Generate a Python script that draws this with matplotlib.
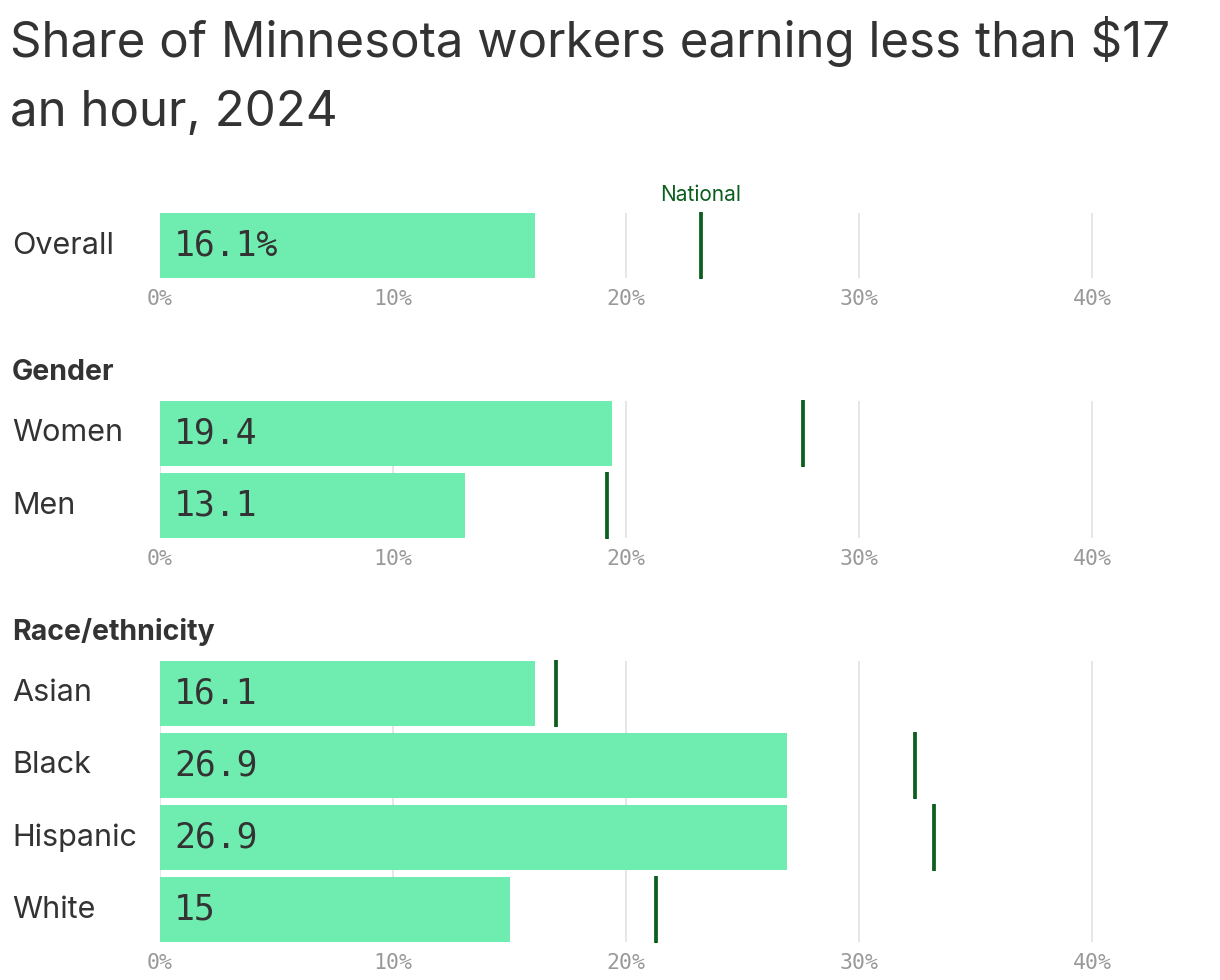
import matplotlib.pyplot as plt
from matplotlib import transforms

# data
overall_labels = ["Overall"]
overall_mn = [16.1]
overall_nat = [23.2]

gender_labels = ["Women", "Men"]
gender_mn = [19.4, 13.1]
gender_nat = [27.6, 19.2]

race_labels = ["Asian", "Black", "Hispanic", "White"]
race_mn = [16.1, 26.9, 26.9, 15.0]
race_nat = [17.0, 32.4, 33.2, 21.3]

value_text = {0: ["16.1%"], 1: ["19.4", "13.1"], 2: ["16.1", "26.9", "26.9", "15"]}
xticks = [0, 10, 20, 30, 40]

bar_color = "#6FEDB0"
nat_color = "#0B5E1E"
text_color = "#333333"

W, H = 1220, 980
fig = plt.figure(figsize=(W / 100, H / 100), dpi=100)

sans = ["Inter", "DejaVu Sans"]
mono = ["DejaVu Sans Mono"]

fig.text(10 / W, 1 - 16 / H, "Share of Minnesota workers earning less than $17\nan hour, 2024",
         ha="left", va="top", fontsize=35.5, color=text_color, family=sans, linespacing=1.63)

px_per_pct = 23.3
left = 160
width = 45 * px_per_pct

groups = [
    (overall_labels, overall_mn, overall_nat, 213, None, None),
    (gender_labels, gender_mn, gender_nat, 401, "Gender", 372),
    (race_labels, race_mn, race_nat, 661, "Race/ethnicity", 632),
]

for gi, (labels, mn, nat, top, header, header_y) in enumerate(groups):
    n = len(labels)
    height_px = 65 + (n - 1) * 72
    ax = fig.add_axes([left / W, 1 - (top + height_px) / H, width / W, height_px / H])
    y = list(range(n))
    ax.barh(y, mn, height=0.9, color=bar_color, zorder=2)
    for yi, v in zip(y, nat):
        ax.plot([v, v], [yi - 0.47, yi + 0.47], color=nat_color, lw=2.7,
                solid_capstyle="butt", zorder=3, clip_on=False)
    ax.set_xlim(0, 45)
    ax.set_ylim(n - 1 + 0.45, -0.45)
    ax.set_xticks(xticks)
    ax.set_xticklabels([f"{t}%" for t in xticks], family=mono, fontsize=15.5, color="#999999")
    ax.tick_params(axis="x", length=0, pad=8)
    ax.set_yticks([])
    ax.grid(axis="x", color="#e2e2e2", lw=1.2, zorder=0)
    for s in ax.spines.values():
        s.set_visible(False)

    tr = transforms.blended_transform_factory(fig.transFigure, ax.transData)
    for yi, lab in zip(y, labels):
        fig.text(12 / W, yi, lab, transform=tr, ha="left", va="center",
                 fontsize=22, color=text_color, family=sans)
    for yi, txt in zip(y, value_text[gi]):
        ax.annotate(txt, (0, yi), xytext=(10, 0), textcoords="offset points",
                    ha="left", va="center", fontsize=25, color=text_color, family=mono, zorder=4)

    if header:
        fig.text(12 / W, 1 - header_y / H, header, ha="left", va="center",
                 fontsize=20.5, fontweight="bold", color=text_color, family=sans)

    if gi == 0:
        ax.annotate("National", (nat[0], -0.47), xytext=(0, 5), textcoords="offset points",
                    ha="center", va="bottom", fontsize=15, color=nat_color, family=sans,
                    annotation_clip=False)

fig.savefig("out.png", dpi=100)
